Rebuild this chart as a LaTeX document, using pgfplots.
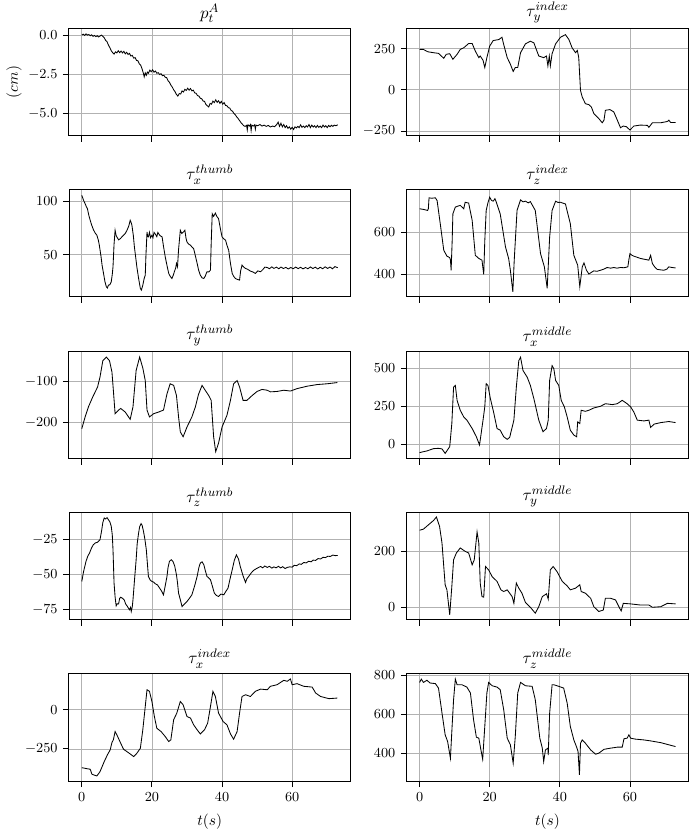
\documentclass[border=0pt]{standalone}
\usepackage{pgfplots}
\pgfplotsset{compat=1.18}
\pgfplotsset{
  panel/.style={
    scale only axis, width=183pt, height=69.8pt,
    anchor=south west,
    xmin=-3.65, xmax=76.65,
    xtick={0,20,40,60},
    grid=major, major grid style={line width=0.5pt, draw=black!30},
    tick align=outside, tick pos=left,
    major tick length=3.9pt,
    axis line style={line width=0.65pt},
    every tick/.style={black, line width=0.55pt},
    tick label style={font=\fontsize{9}{10}\selectfont},
    every axis title shift=0pt,
    title style={font=\fontsize{11}{12}\selectfont, at={(0.5,1)}, anchor=south, inner sep=0pt, yshift=3.4pt},
    label style={font=\fontsize{10}{12}\selectfont},
  },
  nox/.style={xticklabels={}},
  trace/.style={black, line width=0.55pt, mark=none},
  tlabel/.style={xlabel={$t(s)$}, xlabel style={at={(axis description cs:0.5,-0.382)}, anchor=center}},
}
\begin{document}
\begin{tikzpicture}
\path[use as bounding box] (0,0) rectangle (449.8pt,540.15pt);

% row 1
\begin{axis}[panel, nox, at={(44.85pt,451.9pt)}, ymin=-6.42, ymax=0.45, ytick={-5,-2.5,0},
  yticklabel style={/pgf/number format/.cd, fixed, fixed zerofill, precision=1},
  title={$p_t^A$}, ylabel={$(cm)$},
  ylabel style={at={(axis description cs:-0.195,0.5)}, anchor=center}]
\addplot[trace] coordinates {
(0,0.02)(0.4,0.08)(0.8,0.0)(1.2,0.1)(1.6,0.02)(2,0.06)(2.4,-0.02)(2.8,0.04)(3.2,-0.06)(3.6,0.0)(4,-0.08)(4.4,-0.02)(4.8,-0.1)(5.2,-0.04)(5.6,0.02)(6,-0.06)(6.4,-0.15)(6.8,-0.32)(7.2,-0.4)(7.6,-0.62)(8,-0.78)(8.4,-0.98)(8.8,-1.1)(9.2,-1.2)(9.6,-1.05)(10,-1.12)(10.4,-0.98)(10.8,-1.1)(11.2,-1.0)(11.6,-1.12)(12,-1.02)(12.4,-1.18)(12.8,-1.08)(13.2,-1.22)(13.6,-1.15)(14,-1.32)(14.4,-1.28)(14.8,-1.45)(15.2,-1.42)(15.6,-1.6)(16,-1.62)(16.4,-1.82)(16.8,-1.9)(17.2,-2.15)(17.6,-2.45)(17.8,-2.65)(18.1,-2.4)(18.4,-2.55)(18.7,-2.35)(19,-2.42)(19.4,-2.22)(19.8,-2.32)(20.2,-2.2)(20.6,-2.35)(21,-2.28)(21.4,-2.42)(21.8,-2.38)(22.2,-2.5)(22.6,-2.45)(23,-2.58)(23.4,-2.55)(23.8,-2.68)(24.2,-2.7)(24.6,-2.9)(25,-3.0)(25.4,-3.18)(25.8,-3.3)(26.2,-3.48)(26.6,-3.6)(27,-3.78)(27.4,-3.88)(27.8,-3.72)(28.2,-3.75)(28.6,-3.55)(29,-3.62)(29.4,-3.45)(29.8,-3.52)(30.2,-3.38)(30.6,-3.5)(31,-3.4)(31.4,-3.55)(31.8,-3.5)(32.2,-3.68)(32.6,-3.7)(33,-3.85)(33.4,-3.88)(33.8,-4.02)(34.2,-4.05)(34.6,-4.2)(35,-4.22)(35.4,-4.42)(35.8,-4.5)(36.2,-4.58)(36.6,-4.35)(37,-4.4)(37.4,-4.2)(37.8,-4.3)(38.2,-4.12)(38.6,-4.28)(39,-4.18)(39.4,-4.35)(39.8,-4.22)(40.2,-4.4)(40.6,-4.3)(41,-4.48)(41.4,-4.5)(41.8,-4.62)(42.2,-4.65)(42.6,-4.8)(43,-4.85)(43.4,-5.0)(43.8,-5.08)(44.2,-5.22)(44.6,-5.32)(45,-5.45)(45.4,-5.58)(45.8,-5.68)(46.2,-5.78)(46.6,-5.82)(47,-5.75)(47.2,-6.05)(47.4,-5.72)(47.8,-5.8)(48.1,-5.7)(48.3,-6.08)(48.5,-5.74)(48.9,-5.8)(49.3,-5.72)(49.5,-6.0)(49.7,-5.74)(50.2,-5.78)(50.8,-5.7)(51.4,-5.8)(52,-5.74)(52.6,-5.82)(53.2,-5.76)(53.8,-5.86)(54.4,-5.8)(55,-5.84)(55.6,-5.7)(56,-5.55)(56.4,-5.82)(56.8,-5.62)(57.2,-5.85)(57.6,-5.7)(58,-5.9)(58.4,-5.78)(58.8,-5.95)(59.2,-5.85)(59.6,-6.0)(60,-5.88)(60.4,-6.02)(60.8,-5.85)(61.2,-5.92)(61.6,-5.82)(62,-5.9)(62.4,-5.72)(62.8,-5.88)(63.2,-5.8)(63.6,-5.9)(64,-5.78)(64.4,-5.86)(64.8,-5.7)(65.2,-5.9)(65.6,-5.74)(66,-5.86)(66.4,-5.78)(66.8,-5.9)(67.2,-5.76)(67.6,-5.88)(68,-5.8)(68.4,-5.9)(68.8,-5.74)(69.2,-5.86)(69.6,-5.78)(70,-5.9)(70.4,-5.76)(70.8,-5.84)(71.2,-5.75)(71.6,-5.82)(72,-5.74)(72.5,-5.78)(73,-5.72)
};
\end{axis}

\begin{axis}[panel, nox, at={(264.4pt,451.9pt)}, ymin=-279, ymax=374, ytick={-250,0,250},
  title={$\tau_y^{index}$}]
\addplot[trace] coordinates {
(0,246)(1.1,246)(2.3,232)(4,226)(5.4,222)(5.9,212)(6.9,192)(7.6,216)(8.6,220)(9.5,186)(10.7,216)(11.6,246)(12.6,256)(14,282)(15,282)(15.9,236)(16.9,196)(17.3,206)(18.1,180)(18.6,136)(19.2,196)(20,266)(21,300)(22.6,306)(23.5,320)(24,276)(25,196)(25.9,156)(26.7,112)(27.3,136)(28,136)(28.8,226)(30.2,280)(31.6,296)(32.6,286)(34,206)(35.4,196)(36.2,206)(36.6,146)(37,206)(37.3,146)(37.8,220)(38.8,280)(40.2,320)(41.6,336)(42.6,306)(43.5,256)(44.5,226)(45,240)(45.4,196)(45.9,-4)(46.4,-44)(47.3,-84)(48.3,-90)(49,-104)(49.7,-144)(51.1,-174)(52.1,-200)(52.6,-184)(53,-124)(54.3,-120)(55.4,-134)(56.4,-184)(57.3,-230)(58.1,-220)(59,-224)(60,-244)(61.1,-220)(63,-214)(65,-216)(65.4,-228)(66.4,-200)(68.8,-200)(70.7,-192)(71.1,-184)(71.6,-198)(73,-198)
};
\end{axis}

% row 2
\begin{axis}[panel, nox, at={(44.85pt,347.1pt)}, ymin=10.6, ymax=111, ytick={50,100},
  title={$\tau_x^{thumb}$}]
\addplot[trace] coordinates {
(0,105.6)(0.5,101)(0.95,97.8)(1.3,95)(1.6,93.2)(2,87)(2.4,82.3)(2.8,78)(3.3,73.6)(3.8,70.5)(4.3,68.3)(4.7,64)(5,59)(5.5,48)(5.8,40)(6.2,32.6)(6.6,25)(7,20.2)(7.3,19)(7.6,21.7)(8,22)(8.4,24.8)(8.7,32)(8.9,38.8)(9.2,60)(9.5,73)(9.8,68)(10,66.8)(10.5,64)(11,65.2)(11.5,67)(11.9,68.3)(12.4,70)(12.9,73)(13.4,77)(13.8,82.3)(14.1,80)(14.3,77.6)(14.7,68)(15,57.5)(15.4,47)(15.7,38.8)(16.2,28)(16.7,18.6)(17,17)(17.4,21.7)(17.8,28)(18.1,31)(18.3,50)(18.6,71.4)(18.8,67)(19,66.8)(19.3,71)(19.6,66)(20,68.3)(20.3,66)(20.6,71)(21,69.3)(21.4,67)(21.7,71)(21.9,69.9)(22.3,68)(22.9,66.8)(23.3,58)(23.8,48.1)(24.3,40)(24.8,32.6)(25.2,30)(25.7,27.9)(26.1,31)(26.4,34.2)(26.8,38)(27,42)(27.3,38.8)(27.6,55)(28.1,73)(28.5,70)(29,71.4)(29.4,73)(29.7,66)(30,62)(30.5,60)(31,59)(31.5,57)(31.9,55.9)(32.4,49)(32.9,42)(33.3,36)(33.8,31)(34.3,28.5)(34.8,27.9)(35.2,30)(35.7,34.2)(36.2,34)(36.7,35.7)(36.9,60)(37.2,88.5)(37.6,86)(38.1,89)(38.5,86)(39,83.9)(39.5,75)(40,66.8)(40.5,65)(41,63.7)(41.4,59)(41.9,54.3)(42.4,42)(42.9,32.6)(43.3,30)(43.8,27.9)(44.4,27)(45,26.4)(45.3,35)(45.7,40.4)(46.2,38.5)(46.7,37.3)(47.3,36.5)(48.1,34.8)(48.8,34)(49.5,32.6)(50.2,35)(51,34.2)(51.7,36.5)(52.2,38.5)(52.9,38.2)(53.5,37)(54.2,38.8)(54.8,37.3)(55.5,38.5)(56.2,37)(56.8,38.6)(57.5,37.2)(58.2,38.3)(58.9,36.8)(59.6,38.2)(60.3,37)(61,38.6)(61.7,37.1)(62.4,38.4)(63.1,36.9)(63.8,38.2)(64.5,37)(65.2,38.7)(65.9,37.2)(66.6,38.5)(67.3,36.8)(68,38.4)(68.7,37)(69.4,38.8)(70.1,37.3)(70.8,38.6)(71.5,37)(72.2,39)(73,38)
};
\end{axis}

\begin{axis}[panel, nox, at={(264.4pt,347.1pt)}, ymin=293, ymax=803, ytick={400,600},
  title={$\tau_z^{index}$}]
\addplot[trace] coordinates {
(0,712)(1.1,709)(2.3,704)(2.5,712)(2.7,764)(3.5,762)(4.5,764)(5,751)(5.9,641)(6.9,515)(7.8,487)(8.6,480)(8.8,470)(9,420)(9.3,560)(9.5,688)(10.2,720)(11,725)(11.6,728)(12.6,712)(13,743)(14,739)(15,657)(15.9,491)(16.9,476)(17.8,468)(18.3,400)(18.6,560)(19,704)(19.5,740)(20,767)(20.5,752)(21,748)(21.5,760)(21.9,743)(23,688)(24.5,531)(25.4,476)(25.9,420)(26.6,318)(27,468)(27.8,704)(28.8,754)(29.5,745)(30.2,748)(31,740)(31.6,746)(33,704)(34.5,499)(35.6,436)(36.4,334)(37.1,578)(37.8,704)(38.8,748)(39.5,742)(40.2,743)(41,738)(41.6,735)(43,641)(44,491)(45.1,444)(45.7,342)(46.4,436)(46.9,455)(47.6,420)(48.3,402)(49,410)(49.7,417)(50.6,415)(51.6,420)(52.5,425)(53.5,433)(54.5,430)(55.4,433)(56.3,430)(57.3,433)(58.3,432)(59.4,436)(59.7,470)(60,499)(60.5,492)(61.1,487)(62,482)(63,476)(64.2,472)(65.4,468)(65.9,491)(66.4,452)(67.1,435)(67.8,424)(68.7,422)(69.7,420)(70.5,425)(71.1,436)(72,433)(73,431)
};
\end{axis}

% row 3
\begin{axis}[panel, nox, at={(44.85pt,241.8pt)}, ymin=-291, ymax=-25.5, ytick={-200,-100},
  title={$\tau_y^{thumb}$}]
\addplot[trace] coordinates {
(0,-216)(0.95,-187)(1.9,-162)(3.1,-138)(4.5,-113)(5.2,-88)(6,-48)(7,-39)(7.9,-48)(8.6,-76)(9,-121)(9.5,-179)(10.5,-170)(11.1,-166)(12.4,-175)(13.8,-193)(14.6,-162)(15.5,-72)(16.5,-39)(17.4,-66)(18.1,-97)(18.6,-170)(19.3,-187)(20.5,-179)(21.9,-175)(23.3,-170)(24.3,-130)(25.2,-105)(26.2,-109)(27,-134)(27.6,-187)(28.1,-224)(28.9,-236)(30,-212)(31.4,-187)(32.4,-162)(33.3,-131)(34.3,-109)(35.2,-121)(36.2,-134)(36.9,-146)(37.6,-236)(38.2,-273)(39,-252)(40,-212)(41.4,-183)(42.4,-146)(43.3,-105)(44.3,-97)(45,-113)(46,-146)(47.1,-146)(48.6,-134)(50,-124)(51.4,-119)(52.9,-121)(53.8,-125)(55.7,-124)(57.6,-121)(59.5,-123)(61.4,-117)(64.3,-111)(67.1,-107)(70,-105)(72.9,-102)
};
\end{axis}

\begin{axis}[panel, nox, at={(264.4pt,241.8pt)}, ymin=-96, ymax=609, ytick={0,250,500},
  title={$\tau_x^{middle}$}]
\addplot[trace] coordinates {
(0,-54)(2.1,-43)(4,-28)(5.4,-26)(6.4,-30)(7.3,-59)(8.6,-15)(9.2,137)(9.7,376)(10.2,387)(10.7,289)(11.6,224)(12.6,180)(13.5,159)(15,104)(16.2,50)(17.1,-4)(18.1,159)(18.6,246)(19,398)(19.5,387)(20.2,300)(21.1,213)(22.1,104)(23,93)(24,50)(25,33)(25.7,46)(26.9,159)(27.6,376)(28.3,550)(28.8,572)(29.5,485)(30.7,441)(31.6,387)(32.6,300)(34,159)(35.2,83)(36.2,104)(36.7,159)(37.1,420)(37.8,517)(38.3,496)(38.8,420)(39.7,387)(40.4,289)(41.3,246)(42.1,180)(43,93)(44,61)(44.8,50)(45.1,148)(45.7,137)(46.1,224)(47.3,217)(48.3,224)(49.7,239)(51.6,250)(53,267)(55,261)(56.4,267)(57.8,289)(59.2,267)(60.2,246)(61.1,213)(62.1,159)(64,154)(65.4,159)(65.9,111)(66.9,133)(68.8,143)(71.1,150)(73,143)
};
\end{axis}

% row 4
\begin{axis}[panel, nox, at={(44.85pt,137.2pt)}, ymin=-82.4, ymax=-5.9, ytick={-75,-50,-25},
  title={$\tau_z^{thumb}$}]
\addplot[trace] coordinates {
(0,-55)(0.5,-48)(1.2,-40.7)(1.7,-37)(2.2,-34.8)(2.8,-31)(3.3,-28.8)(3.9,-27.5)(4.5,-27.1)(4.9,-26)(5.2,-25.2)(5.5,-21)(5.7,-18.1)(6,-13)(6.4,-9.8)(6.8,-10.5)(7.2,-9.5)(7.6,-11)(8,-12.5)(8.4,-15.7)(8.7,-22)(8.9,-32.4)(9.2,-56.2)(9.5,-66)(9.8,-72.4)(10.1,-71)(10.5,-71)(10.8,-67)(11.1,-66.2)(11.6,-67)(12.1,-68.1)(12.5,-71)(12.9,-72.4)(13.3,-74)(13.6,-75.2)(13.9,-73.5)(14.1,-76.4)(14.4,-73)(14.6,-68.1)(15,-55)(15.5,-39.5)(15.8,-28)(16.2,-20.5)(16.5,-16)(16.9,-13.8)(17.2,-15)(17.6,-19.3)(18,-25)(18.4,-32.4)(18.7,-42)(19,-51.4)(19.5,-54)(20,-55)(20.5,-55.5)(21,-56.7)(21.6,-57.5)(22.2,-59.8)(22.8,-62)(23.3,-64.5)(23.8,-58)(24.3,-51.4)(24.6,-45)(25,-40.7)(25.5,-39.5)(26,-40.7)(26.5,-44)(27,-50.2)(27.3,-56)(27.6,-63.3)(28.1,-68)(28.6,-72.9)(29.3,-71)(30,-69.3)(30.7,-67)(31.4,-64.5)(32.2,-58)(32.9,-51.4)(33.4,-45)(33.8,-41.9)(34.3,-41)(34.8,-43.1)(35.2,-47)(35.7,-51.4)(36.2,-52.5)(36.7,-53.8)(37.2,-58)(37.8,-63.3)(38.4,-65)(39,-65.7)(39.7,-64)(40.5,-64.5)(41.1,-62)(41.7,-59.8)(42.3,-53)(42.9,-46.7)(43.5,-40)(44.1,-36)(44.7,-39)(45.2,-44.3)(46,-51)(46.7,-55.7)(47.1,-53)(47.6,-51.4)(48.3,-49)(49,-47.1)(49.7,-46)(50.3,-45.2)(51,-44.3)(51.6,-45.3)(52.2,-44)(52.9,-45)(53.5,-44.2)(54.2,-45.5)(54.8,-44.6)(55.4,-45.3)(56.1,-44.2)(56.7,-45.4)(57.3,-44.5)(58,-45.8)(58.6,-45)(59.3,-44.6)(60,-44.8)(60.6,-43.5)(61.3,-43.8)(62,-42.5)(62.6,-42.8)(63.3,-41.5)(64,-41.8)(64.7,-40.6)(65.4,-41)(66,-39.8)(66.7,-40)(67.4,-38.7)(68.1,-39)(68.8,-37.8)(69.5,-38)(70.2,-37)(70.9,-37.2)(71.6,-36.2)(72.3,-36.6)(73,-36.5)
};
\end{axis}

\begin{axis}[panel, nox, at={(264.4pt,137.2pt)}, ymin=-45, ymax=337, ytick={0,200},
  title={$\tau_y^{middle}$}]
\addplot[trace] coordinates {
(0,274)(1.1,278)(2.6,294)(4,309)(4.8,321)(5.7,288)(6.4,228)(6.9,145)(7.3,80)(7.8,62)(8.6,-27)(9.2,74)(9.7,169)(10.5,193)(11.6,211)(13,199)(14,193)(15,151)(15.6,169)(16.4,268)(16.9,228)(17.3,86)(17.8,38)(18.3,36)(18.8,145)(19.7,133)(20.7,109)(22.1,92)(23.2,62)(24,56)(25,62)(26.4,38)(26.9,14)(27.6,86)(28.3,68)(29.2,50)(30.2,17)(31.6,0)(33,-21)(34,2)(35,38)(36.2,48)(36.7,29)(37.3,133)(38.1,145)(39.2,127)(40.7,92)(42.1,76)(43,62)(44.5,68)(45.7,80)(46.1,56)(47.3,50)(48.8,32)(49.7,2)(51.1,-15)(52.4,-10)(53,32)(54.5,32)(55.9,26)(57.1,-4)(57.5,-13)(58.1,14)(60.2,12)(63,8)(65.4,8)(66.4,0)(68.8,2)(70.7,14)(73,12)
};
\end{axis}

% row 5
\begin{axis}[panel, tlabel, at={(44.85pt,32.5pt)}, ymin=-455, ymax=231, ytick={-250,0},
  title={$\tau_x^{index}$}]
\addplot[trace] coordinates {
(0,-370)(1.4,-376)(2.4,-380)(2.9,-412)(4.3,-423)(5.2,-395)(6.4,-331)(7.3,-288)(8.1,-256)(8.6,-209)(9,-192)(9.5,-139)(10,-160)(11,-209)(11.9,-252)(13.3,-274)(14.8,-299)(15.7,-278)(16.7,-246)(17.4,-128)(18.1,21)(18.6,128)(19.3,118)(20,53)(20.7,-43)(21.4,-118)(22.6,-139)(23.8,-171)(24.8,-203)(25.4,-192)(26.2,-64)(27.1,-21)(28.1,53)(28.9,32)(30,-43)(31,-53)(31.9,-96)(32.9,-128)(33.8,-154)(35,-128)(35.9,-85)(36.7,21)(37.4,118)(38.1,85)(39,-21)(40.3,-75)(41.4,-96)(42.4,-154)(43.3,-188)(44.3,-139)(45,-21)(45.7,85)(46.7,96)(48.1,85)(49.5,118)(51,132)(52.9,128)(53.8,150)(55.7,160)(57.6,188)(58.6,182)(59.5,197)(60,160)(61.4,167)(63.3,150)(65.7,145)(66.7,107)(68.1,85)(70.5,71)(72.9,75)
};
\end{axis}

\begin{axis}[panel, tlabel, at={(264.4pt,32.5pt)}, ymin=258, ymax=807, ytick={400,600,800},
  title={$\tau_z^{middle}$}]
\addplot[trace] coordinates {
(0,762)(0.5,779)(1.1,762)(2.1,773)(3,759)(4.5,756)(5.4,733)(6.4,605)(7.3,494)(8,460)(8.8,374)(9.2,511)(9.7,674)(10.2,779)(10.7,750)(12.1,750)(13.5,738)(14.5,708)(15.4,571)(16.2,482)(16.9,477)(17.5,417)(18,369)(18.6,537)(19.2,708)(19.7,762)(20.7,745)(22.1,738)(23,725)(24,622)(25,477)(25.9,443)(26.7,349)(27.3,486)(28,708)(28.8,762)(30.2,745)(32.1,742)(33,674)(34.3,477)(35,426)(35.4,357)(35.9,417)(36.6,426)(36.7,391)(37.1,605)(37.8,750)(38.3,750)(39.7,742)(41.1,733)(42.1,656)(43,537)(44,468)(44.8,431)(45.2,409)(45.6,289)(45.9,451)(46.4,468)(47.3,451)(48.8,417)(50.2,395)(51.1,400)(52.6,420)(54.5,426)(56.4,431)(57.8,431)(58.3,474)(59.2,477)(59.7,494)(60.2,477)(61.6,472)(64,468)(65.9,463)(68.8,454)(71.1,443)(73,434)
};
\end{axis}
\end{tikzpicture}
\end{document}
